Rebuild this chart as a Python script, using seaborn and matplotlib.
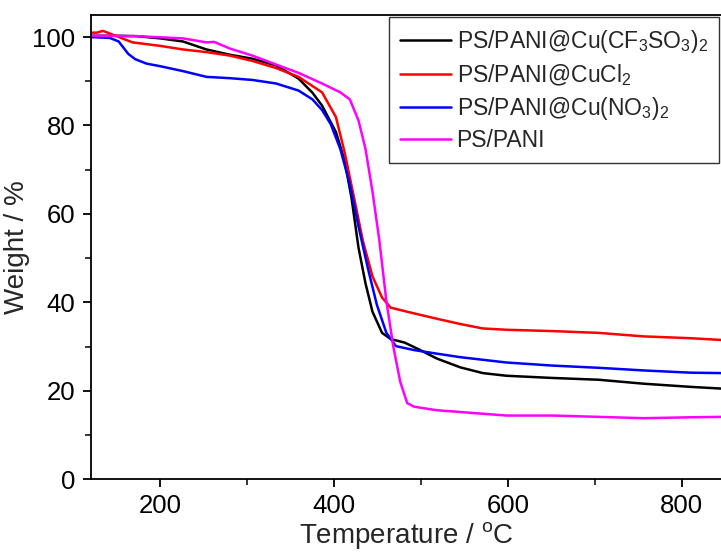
import seaborn as sns
import matplotlib.pyplot as plt
from matplotlib.ticker import MultipleLocator
import pandas as pd

# TGA curves (temperature in C, weight in %)
cf3so3_t = [120, 150, 173, 200, 226, 253, 280, 306, 333, 359, 375, 386, 402, 412, 420, 428, 436, 444, 455, 465, 481, 497, 518, 545, 571, 598, 651, 704, 756, 809, 845]
cf3so3_w = [100.3, 100.3, 100.2, 99.7, 99.0, 97.2, 96.0, 95.1, 93.6, 90.6, 87.4, 84.5, 78.5, 72.0, 63.5, 52.3, 44.3, 37.9, 33.1, 31.7, 30.9, 29.4, 27.3, 25.3, 24.0, 23.4, 22.9, 22.5, 21.6, 20.9, 20.5]

cucl2_t = [120, 127, 134, 147, 168, 200, 226, 253, 280, 306, 333, 359, 386, 402, 412, 423, 433, 444, 455, 465, 492, 518, 545, 571, 598, 651, 704, 756, 809, 845]
cucl2_w = [101.0, 101.0, 101.4, 100.4, 98.8, 98.0, 97.2, 96.6, 95.8, 94.6, 93.0, 91.0, 87.5, 81.9, 73.9, 63.5, 53.9, 45.9, 41.1, 38.8, 37.5, 36.3, 35.1, 34.1, 33.8, 33.5, 33.1, 32.3, 31.9, 31.5]

no3_t = [120, 142, 152, 163, 171, 184, 200, 226, 253, 280, 306, 333, 359, 375, 386, 396, 407, 418, 428, 439, 449, 460, 471, 492, 518, 545, 598, 651, 704, 756, 809, 845]
no3_w = [100.0, 99.8, 99.0, 96.2, 95.0, 94.0, 93.4, 92.3, 91.0, 90.7, 90.3, 89.5, 87.9, 85.9, 83.5, 80.3, 74.7, 66.7, 57.1, 47.5, 39.5, 33.1, 30.1, 29.2, 28.4, 27.6, 26.4, 25.7, 25.2, 24.6, 24.1, 24.0]

pani_t = [120, 173, 226, 253, 262, 280, 306, 333, 359, 386, 407, 418, 428, 436, 444, 452, 460, 468, 476, 484, 492, 518, 545, 598, 651, 704, 756, 809, 845]
pani_w = [100.3, 100.2, 99.7, 98.8, 98.9, 97.4, 95.8, 93.8, 91.9, 89.5, 87.5, 85.9, 81.1, 74.7, 65.1, 53.9, 40.3, 30.0, 22.0, 17.2, 16.4, 15.6, 15.2, 14.4, 14.4, 14.1, 13.8, 14.0, 14.1]

labels = [r'PS/PANI@Cu(CF$_3$SO$_3$)$_2$', r'PS/PANI@CuCl$_2$',
          r'PS/PANI@Cu(NO$_3$)$_2$', 'PS/PANI']
colors = ['black', '#ff0000', '#0000ff', '#ff00ff']

sns.set_style('ticks')
plt.rcParams['font.family'] = ['Liberation Sans', 'DejaVu Sans']
plt.rcParams['mathtext.fontset'] = 'custom'
plt.rcParams['mathtext.rm'] = 'Liberation Sans'
plt.rcParams['mathtext.it'] = 'Liberation Sans'

fig = plt.figure(figsize=(7.21, 5.54), dpi=100)
ax = fig.add_axes([0.126, 0.135, 0.874, 0.838])

series = [(cf3so3_t, cf3so3_w), (cucl2_t, cucl2_w), (no3_t, no3_w), (pani_t, pani_w)]
for (t, w), lab, c in zip(series, labels, colors):
    df = pd.DataFrame({'T': t, 'W': w})
    sns.lineplot(data=df, x='T', y='W', ax=ax, color=c, lw=1.8, label=lab)

ax.set_xlim(120, 845)
ax.set_ylim(0, 105)
ax.xaxis.set_major_locator(MultipleLocator(200))
ax.xaxis.set_minor_locator(MultipleLocator(100))
ax.yaxis.set_major_locator(MultipleLocator(20))
ax.yaxis.set_minor_locator(MultipleLocator(10))
ax.tick_params(which='major', direction='out', length=6, width=1.3, pad=5,
               labelsize=18.5, colors='black')
ax.tick_params(which='minor', direction='out', length=4, width=1.3)
for s in ax.spines.values():
    s.set_linewidth(1.3)
    s.set_color('black')
ax.spines['right'].set_visible(False)

ax.set_xlabel(r'Temperature / $^{\mathrm{o}}$C', fontsize=20, labelpad=1)
ax.set_ylabel('Weight / %', fontsize=20, labelpad=2)

leg = ax.legend(loc='upper left', bbox_to_anchor=(0.473, 0.996), fontsize=16.5,
                frameon=True, fancybox=False, edgecolor='black',
                handlelength=2.2, handletextpad=0.25, labelspacing=0.3,
                borderpad=0.5, borderaxespad=0)
leg.get_frame().set_linewidth(1.0)

fig.savefig('out.png', dpi=100)
